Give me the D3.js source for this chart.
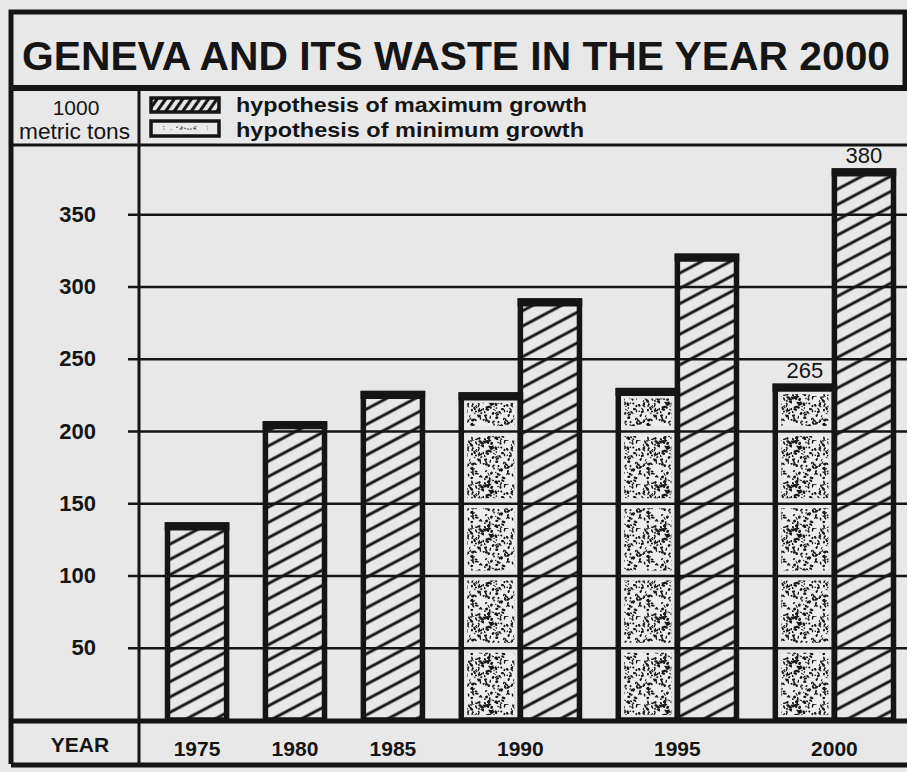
<!DOCTYPE html>
<html>
<head>
<meta charset="utf-8">
<script src="https://cdn.jsdelivr.net/npm/d3@7"></script>
<style>
  html, body { margin: 0; padding: 0; background: #e8e8e8; }
  svg { display: block; }
</style>
</head>
<body>
<div id="chart"></div>
<script>
// values (1000 metric tons)
var years = ["1975", "1980", "1985", "1990", "1995", "2000"];
var maxGrowth = [135, 205, 226, 290, 321, 380];
var minGrowth = [null, null, null, 225, 228, 231];
var yTicks = [50, 100, 150, 200, 250, 300, 350];

// printed value labels
var labelYears = ["2000", "2000"];
var labelSeries = ["min", "max"];
var labelTexts = ["265", "380"];

var titleText = "GENEVA AND ITS WASTE IN THE YEAR 2000";
var legendTexts = ["hypothesis of maximum growth", "hypothesis of minimum growth"];
var unitTexts = ["1000", "metric tons"];

var svgWidth = 907;
var svgHeight = 772;
var paper = "#e8e8e8";
var ink = "#151515";
var fontFamily = "'Liberation Sans', Arial, sans-serif";

var svg = d3.select("#chart")
  .append("svg")
  .attr("width", svgWidth)
  .attr("height", svgHeight);

svg.append("rect")
  .attr("width", svgWidth)
  .attr("height", svgHeight)
  .attr("fill", paper);

// patterns
var defs = svg.append("defs");

defs.append("pattern")
  .attr("id", "hatch")
  .attr("patternUnits", "userSpaceOnUse")
  .attr("width", 14)
  .attr("height", 13.5)
  .attr("patternTransform", "rotate(-28)")
  .append("line")
  .attr("x1", 0).attr("x2", 14)
  .attr("y1", 6.75).attr("y2", 6.75)
  .attr("stroke", ink)
  .attr("stroke-width", 2.9);

defs.append("pattern")
  .attr("id", "hatchLegend")
  .attr("patternUnits", "userSpaceOnUse")
  .attr("width", 8)
  .attr("height", 7)
  .attr("patternTransform", "rotate(-55)")
  .append("line")
  .attr("x1", 0).attr("x2", 8)
  .attr("y1", 3.5).attr("y2", 3.5)
  .attr("stroke", ink)
  .attr("stroke-width", 3.2);

// stipple texture: fixed speck layout from a hash, only a print texture
function hash(n) {
  var s = Math.sin(n * 127.1 + 311.7) * 43758.5453;
  return s - Math.floor(s);
}
var tile = 44;
var stipple = defs.append("pattern")
  .attr("id", "stipple")
  .attr("patternUnits", "userSpaceOnUse")
  .attr("width", tile)
  .attr("height", tile);
stipple.append("rect").attr("width", tile).attr("height", tile).attr("fill", "#ededed");
for (var k = 1; k <= 170; k++) {
  var cx = hash(k) * tile, cy = hash(k + 500) * tile;
  stipple.append("ellipse")
    .attr("cx", cx)
    .attr("cy", cy)
    .attr("rx", 0.6 + hash(k + 1000) * 1.5)
    .attr("ry", 0.5 + hash(k + 1500) * 0.9)
    .attr("transform", "rotate(" + (hash(k + 2000) * 180) + "," + cx + "," + cy + ")")
    .attr("fill", ink);
}

// scales
var y = d3.scaleLinear()
  .domain([0, 400])
  .range([720, 142]);

// each bar is one unit wide, groups are separated by a fixed gap
var gapUnits = 0.657;
var groups = years.map(function(yr, i) {
  return { year: yr, n: minGrowth[i] == null ? 1 : 2 };
});
var start = 0;
groups.forEach(function(g, i) {
  g.start = start;
  start += g.n + gapUnits;
});
var totalUnits = start - gapUnits;

var xUnit = d3.scaleLinear()
  .domain([0, totalUnits])
  .range([167.5, 893.5]);

// build the bar list
var bars = [];
groups.forEach(function(g, i) {
  if (minGrowth[i] != null) {
    bars.push({ year: g.year, series: "min", value: minGrowth[i], u0: g.start, u1: g.start + 1 });
    bars.push({ year: g.year, series: "max", value: maxGrowth[i], u0: g.start + 1, u1: g.start + 2 });
  } else {
    bars.push({ year: g.year, series: "max", value: maxGrowth[i], u0: g.start, u1: g.start + 1 });
  }
});

var barGroup = svg.append("g");

// hatched fills
barGroup.selectAll("rect.maxFill")
  .data(bars.filter(function(d) { return d.series == "max"; }))
  .enter()
  .append("rect")
  .attr("class", "maxFill")
  .attr("x", function(d) { return xUnit(d.u0); })
  .attr("y", function(d) { return y(d.value); })
  .attr("width", function(d) { return xUnit(d.u1) - xUnit(d.u0); })
  .attr("height", function(d) { return y(0) - y(d.value); })
  .attr("fill", "url(#hatch)");

// stippled fills, broken into cells between the gridlines
var cells = [];
bars.filter(function(d) { return d.series == "min"; }).forEach(function(d) {
  var edges = [0].concat(yTicks.filter(function(t) { return t < d.value; })).concat([d.value]);
  for (var j = 0; j < edges.length - 1; j++) {
    cells.push({ bar: d, lo: edges[j], hi: edges[j + 1], top: j == edges.length - 2 });
  }
});

barGroup.selectAll("rect.minCell")
  .data(cells)
  .enter()
  .append("rect")
  .attr("class", "minCell")
  .attr("x", function(d) { return xUnit(d.bar.u0) + 6; })
  .attr("y", function(d) { return y(d.hi) + (d.top ? 8 : 5); })
  .attr("width", function(d) { return xUnit(d.bar.u1) - xUnit(d.bar.u0) - 12; })
  .attr("height", function(d) { return Math.max(0, y(d.lo) - y(d.hi) - (d.top ? 8 : 5) - 5); })
  .attr("fill", "url(#stipple)");

// gridlines with the y labels
var yAxis = d3.axisLeft(y)
  .tickValues(yTicks)
  .tickSize(907 - 128)
  .tickPadding(32);

var yAxisGroup = svg.append("g")
  .attr("transform", "translate(907,0)")
  .call(yAxis);
yAxisGroup.select(".domain").remove();
yAxisGroup.selectAll("line")
  .attr("stroke", ink)
  .attr("stroke-width", 2.6);
yAxisGroup.selectAll("text")
  .attr("fill", ink)
  .attr("font-family", fontFamily)
  .attr("font-weight", "bold")
  .attr("font-size", 22);

// bar outlines
var outlines = svg.append("g");
outlines.selectAll("rect")
  .data(bars)
  .enter()
  .append("rect")
  .attr("x", function(d) { return xUnit(d.u0); })
  .attr("y", function(d) { return y(d.value); })
  .attr("width", function(d) { return xUnit(d.u1) - xUnit(d.u0); })
  .attr("height", function(d) { return y(0) - y(d.value); })
  .attr("fill", "none")
  .attr("stroke", ink)
  .attr("stroke-width", 5.5);

outlines.selectAll("line.cap")
  .data(bars)
  .enter()
  .append("line")
  .attr("class", "cap")
  .attr("x1", function(d) { return xUnit(d.u0) - 2.75; })
  .attr("x2", function(d) { return xUnit(d.u1) + 2.75; })
  .attr("y1", function(d) { return y(d.value) + 1.5; })
  .attr("y2", function(d) { return y(d.value) + 1.5; })
  .attr("stroke", ink)
  .attr("stroke-width", 8);

// value labels above bars
labelTexts.forEach(function(txt, i) {
  var b = bars.filter(function(d) { return d.year == labelYears[i] && d.series == labelSeries[i]; })[0];
  svg.append("text")
    .attr("x", (xUnit(b.u0) + xUnit(b.u1)) / 2)
    .attr("y", y(b.value) - 8)
    .attr("text-anchor", "middle")
    .attr("font-family", fontFamily)
    .attr("font-size", 22)
    .attr("fill", ink)
    .text(txt);
});

// frame
var frame = svg.append("g")
  .attr("stroke", ink)
  .attr("fill", "none");
frame.append("path").attr("d", "M11,764 V12 H905 V88").attr("stroke-width", 5);
frame.append("line").attr("x1", 11).attr("x2", 907).attr("y1", 88).attr("y2", 88).attr("stroke-width", 6);
frame.append("line").attr("x1", 11).attr("x2", 907).attr("y1", 145).attr("y2", 145).attr("stroke-width", 3);
frame.append("line").attr("x1", 11).attr("x2", 907).attr("y1", y(0) + 1).attr("y2", y(0) + 1).attr("stroke-width", 5);
frame.append("line").attr("x1", 11).attr("x2", 907).attr("y1", 765).attr("y2", 765).attr("stroke-width", 5);
frame.append("line").attr("x1", 139).attr("x2", 139).attr("y1", 88).attr("y2", 765).attr("stroke-width", 3);

// title
svg.append("text")
  .attr("x", 22)
  .attr("y", 70)
  .attr("font-family", fontFamily)
  .attr("font-weight", "bold")
  .attr("font-size", 41)
  .attr("textLength", 868)
  .attr("lengthAdjust", "spacingAndGlyphs")
  .attr("fill", ink)
  .text(titleText);

// unit
svg.append("text")
  .attr("x", 76).attr("y", 115)
  .attr("text-anchor", "middle")
  .attr("font-family", fontFamily)
  .attr("font-size", 21)
  .attr("fill", ink)
  .text(unitTexts[0]);
svg.append("text")
  .attr("x", 19).attr("y", 139)
  .attr("font-family", fontFamily)
  .attr("font-size", 22)
  .attr("textLength", 111)
  .attr("lengthAdjust", "spacingAndGlyphs")
  .attr("fill", ink)
  .text(unitTexts[1]);

// legend
svg.append("rect")
  .attr("x", 151).attr("y", 98)
  .attr("width", 68).attr("height", 14)
  .attr("fill", "url(#hatchLegend)")
  .attr("stroke", ink)
  .attr("stroke-width", 3.5);
svg.append("rect")
  .attr("x", 151).attr("y", 121)
  .attr("width", 68).attr("height", 15)
  .attr("fill", paper)
  .attr("stroke", ink)
  .attr("stroke-width", 3.5);
svg.append("rect")
  .attr("x", 160).attr("y", 126.5)
  .attr("width", 48).attr("height", 3)
  .attr("fill", "url(#stipple)")
  .attr("opacity", 0.7);

legendTexts.forEach(function(txt, i) {
  svg.append("text")
    .attr("x", 236)
    .attr("y", 112 + i * 25)
    .attr("font-family", fontFamily)
    .attr("font-weight", "bold")
    .attr("font-size", 21)
    .attr("textLength", i == 0 ? 351 : 348)
    .attr("lengthAdjust", "spacingAndGlyphs")
    .attr("fill", ink)
    .text(txt);
});

// year row
svg.append("text")
  .attr("x", 80).attr("y", 752)
  .attr("text-anchor", "middle")
  .attr("font-family", fontFamily)
  .attr("font-weight", "bold")
  .attr("font-size", 21)
  .attr("fill", ink)
  .text("YEAR");

svg.selectAll("text.year")
  .data(groups)
  .enter()
  .append("text")
  .attr("class", "year")
  .attr("x", function(d) { return (xUnit(d.start) + xUnit(d.start + d.n)) / 2; })
  .attr("y", 756)
  .attr("text-anchor", "middle")
  .attr("font-family", fontFamily)
  .attr("font-weight", "bold")
  .attr("font-size", 21)
  .attr("fill", ink)
  .text(function(d) { return d.year; });
</script>
</body>
</html>
